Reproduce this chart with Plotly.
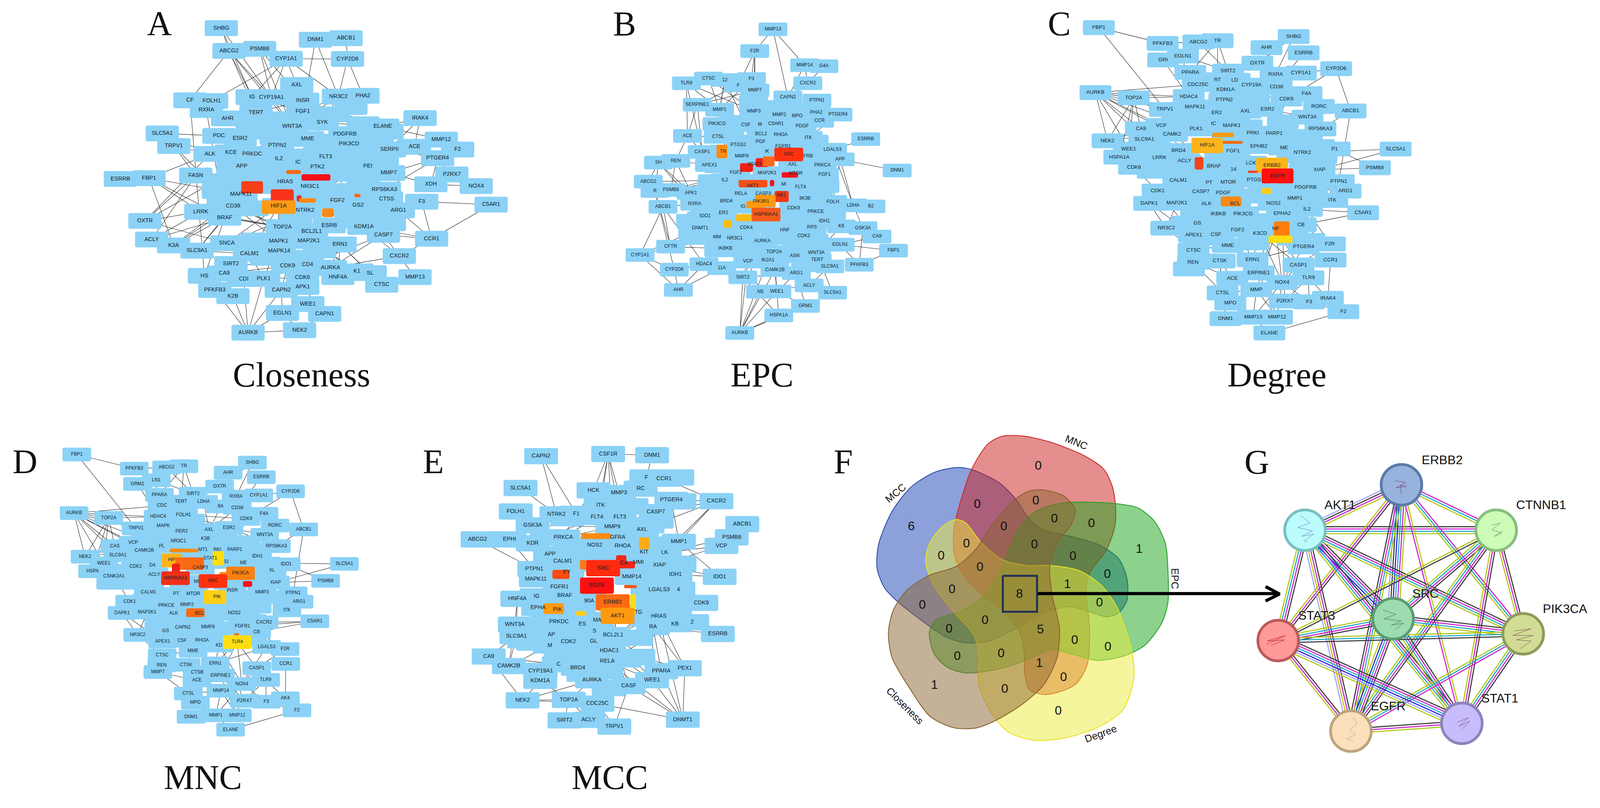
import math
import plotly.graph_objects as go

W, H = 4219, 2068
BLUE = "#8bd2f6"

# panel crops in image pixels: left, top, width, height, extra width to the right
crops = [(200, 0, 1000, 1000, 200), (1550, 0, 900, 1000, 0), (2750, 0, 1000, 1000, 0),
         (0, 1100, 950, 968, 0), (1100, 1100, 950, 968, 0),
         (2200, 1050, 1000, 1000, 0), (3200, 1100, 1019, 900, 0)]

A_nodes = [("SHBG",592,101),("ABCG2",624,193),("PSMB8",751,185),("DNM1",983,148),("ABCB1",1110,142),("CYP1A1",861,225),
("CYP2D6",1116,226),("AXL",905,331),("CF",462,393),("FOLH1",552,396),("IG",720,380),("CYP19A1",800,381),("INSR",930,394),
("NR3C2",1078,378),("PHA2",1180,375),("RXRA",530,432),("TERT",736,443),("FGF1",930,438),("AHR",618,466),("SYK",1011,483),
("WNT3A",886,499),("ELANE",1262,499),("IRAK4",1417,465),("SLC5A1",347,527),("PDC",582,537),("ESR2",670,548),("MME",950,549),
("PDGFRB",1105,530),("MMP12",1505,552),("TRPV1",395,578),("PTPN2",825,576),("PIK3CD",1122,569),("SERPII",1290,592),
("ACE",1394,581),("F2",1573,592),("ALK",545,610),("KCE",632,604),("PRKDC",720,610),("FLT3",1025,621),("IL2",831,630),
("IC",911,644),("PTGER4",1490,627),("APP",677,659),("PTK2",991,662),("PEI",1200,660),("MMP7",1287,687),("FASN",486,697),
("ESRRB",173,711),("FBP1",292,708),("HRAS",857,723),("NR3C1",960,741),("XDH",1462,733),("P2RX7",1549,693),("NOX4",1650,740),
("C5AR1",1712,815),("MAPK11",674,773),("RPS6KA3",1269,754),("FGF2",1074,798),("CTSS",1278,793),("F3",1424,803),("CD38",641,821),
("HIF1A",830,820),("NTRK2",940,838),("ARG1",1327,838),("LRRK",507,844),("GS2",1160,818),("BRAF",606,868),("OXTR",275,881),
("TOP2A",846,906),("BCL2L1",967,924),("KDM1A",1184,905),("CASP7",1265,937),("ESRB",1040,899),("ACLY",303,956),("K3A",394,980),
("SNCA",615,971),("MAPK1",830,963),("MAP2K1",955,962),("ERN1",1085,976),("CCR1",1465,953),("SLC9A1",491,1001),("CALM1",709,1014),
("MAPK14",832,1003),("CXCR2",1331,1023),("CDK9",867,1063),("CD4",950,1057),("AURKA",1045,1070),("SIRT2",632,1055),("HS",522,1103),
("CA9",604,1093),("CDI",685,1116),("PLK1",768,1114),("CDK6",929,1110),("HNF4A",1076,1108),("K1",1155,1085),("SL",1210,1092),
("MMP13",1396,1108),("CTSC",1258,1139),("PFKFB3",565,1160),("CAPN2",841,1160),("APK1",930,1148),("K2B",640,1185),("WEE1",951,1217),
("EGLN1",846,1253),("CAPN1",1021,1257),("AURKB",703,1333),("NEK2",917,1323)]
A_fill = [(1230,530),(1180,620),(1280,520),(1260,630),(1090,620),(620,720),(600,790),(1250,860),(1130,850),(760,520),(820,540),
(1060,450),(1130,420),(720,500),(760,680),(1100,690),(1150,760),(1200,800),(1000,1000),(740,960),(720,700),(1150,660),(1000,560),(870,680),(1180,490),
(1180,720),(1150,880),(1290,890),(1000,700),(800,470),(770,740),(580,760),(720,830),(870,780),(1000,800),(640,700),(900,880),
(780,1030),(900,1030),(900,700),(1060,760),(1200,760),(1240,560),(1130,600),(1180,550),(960,620),(880,620),(760,620),(640,650),(1050,660),(1150,640)]
A_hubs = [(720,745,90,50,"#f5401a"),(892,683,60,16,"#f56a15"),(985,705,120,26,"#f5101a"),(845,778,95,50,"#f8351a"),(915,790,20,25,"#e8301a"),
(950,798,70,18,"#f88a12"),(830,825,140,55,"#fd9a18"),(1035,848,50,35,"#f58a15"),(1157,778,26,14,"#f56a15")]
A_edges = ["SHBG:ABCG2","SHBG:CYP19A1","SHBG:IG","ABCG2:CF","ABCG2:TERT","ABCG2:IG","ABCG2:WNT3A","ABCG2:CYP19A1","PSMB8:CYP19A1","PSMB8:INSR",
"CYP1A1:FOLH1","CYP1A1:IG","CYP1A1:AXL","CYP1A1:NR3C2","CYP1A1:CYP2D6","CYP1A1:CYP19A1","DNM1:FGF1","DNM1:NR3C2","ABCB1:CYP2D6","CYP2D6:NR3C2","CYP2D6:PHA2",
"CF:HS","RXRA:BRAF","SLC5A1:PDC","SLC5A1:ALK","TRPV1:ALK","TRPV1:FASN","TRPV1:CD38","ESRRB:FBP1","FBP1:MAPK11","FBP1:BRAF","FBP1:K3A","FBP1:LRRK","FBP1:ALK",
"FASN:OXTR","OXTR:ALK","OXTR:CD38","OXTR:APP","OXTR:SNCA","ACLY:LRRK","ACLY:BRAF","ACLY:FASN","K3A:BRAF","K3A:SNCA","K3A:CD38","K3A:MAPK11","SLC9A1:SIRT2","SLC9A1:CD38","SLC9A1:CALM1","SLC9A1:BRAF",
"HS:BRAF","AURKB:NEK2","AURKB:PFKFB3","AURKB:PLK1","AURKB:CDI","AURKB:CAPN2","AURKB:EGLN1","AURKB:K2B","NEK2:EGLN1","NEK2:CAPN1","EGLN1:CAPN2","WEE1:CAPN2","WEE1:PLK1","CAPN1:WEE1","CAPN1:APK1",
"CCR1:CASP7","CCR1:ARG1","CCR1:F3","CCR1:C5AR1","CCR1:KDM1A","CCR1:CXCR2","F3:C5AR1","XDH:NOX4","XDH:MMP7","XDH:PTGER4","XDH:P2RX7","P2RX7:PTGER4","IRAK4:ELANE","IRAK4:ACE","IRAK4:SERPII",
"MMP12:ELANE","MMP12:SERPII","PTGER4:MMP7","PTGER4:RPS6KA3","PTGER4:SERPII","CXCR2:CASP7","CXCR2:KDM1A","MMP13:CXCR2","MMP13:CTSC","CXCR2:AURKA","HNF4A:ERN1","CASP7:AURKA","ERN1:AURKA","MAPK14:HNF4A","MAP2K1:HNF4A","ERN1:SL","MAP2K1:K1",
"CYP19A1:WNT3A","IG:FGF1","INSR:TERT","AXL:TERT","CYP19A1:FGF1","AXL:AHR","PSMB8:WNT3A","NR3C2:SYK","INSR:ELANE","FGF1:NR3C2","AXL:SYK","NR3C2:WNT3A","PHA2:MME","PDGFRB:INSR","ELANE:SYK",
"PTK2:RPS6KA3","PTK2:MMP7","NR3C1:PEI","FLT3:RPS6KA3","FLT3:MMP7","PEI:FGF2","HRAS:MMP7","NR3C1:MMP7","PTK2:CTSS","PIK3CD:FGF2","IC:RPS6KA3","IL2:PEI","HRAS:PEI","NR3C1:CTSS","IL2:RPS6KA3",
"BRAF:TOP2A","CD38:MAPK1","CD38:TOP2A","HIF1A:SNCA","HIF1A:MAPK1","MAPK11:MAPK1","BRAF:BCL2L1","LRRK:TOP2A","NTRK2:SNCA","HIF1A:CALM1","CD38:MAP2K1",
"SIRT2:CDK9","CALM1:PLK1","CALM1:CDK6","SIRT2:MAPK14","CDK9:CA9","MAPK1:PLK1","MAPK14:CDK6","PLK1:CD4","CDK9:CAPN2","CDK6:CDI","PDGFRB:FLT3","MME:PDGFRB","SYK:PIK3CD",
"PIK3CD:SERPII","ELANE:PIK3CD","GS2:KDM1A","FGF2:KDM1A","ESRB:GS2","ESRB:NTRK2","TOP2A:ERN1","MAPK14:AURKA","CD4:ERN1","ERN1:CTSC","MAP2K1:CTSC","CD4:CASP7"]

B_nodes = [("MMP13",850,106),("F2R",766,194),("MMP14",996,251),("G4A",1085,255),("TLR9",451,324),("CTSC",553,305),("12",628,311),("F3",751,307),("F",690,333),
("CXCR2",1011,324),("MMP7",767,353),("CAPN2",919,381),("PTPN1",1053,394),("SERPINE1",501,411),("MMP1",604,431),("MMP3",762,437),("MMP2",879,452),("MPO",962,456),
("PHA2",1050,443),("PTGER4",1150,451),("CCR",1065,476),("PIK3CG",592,489),("CSF",725,493),("M",790,491),("C5AR1",864,489),("PDGF",985,498),("ACE",456,537),("CTSL",597,541),
("RHOA",886,533),("BCL2",795,530),("ITK",1013,545),("ESRRB",1278,550),("PGF",793,561),("PTGS2",690,573),("FGFR1",897,580),("LGALS3",1125,593),("CASP1",524,602),("TN",620,600),
("MMP9",706,620),("IK",823,600),("SRC",923,612),("FRB",1012,619),("APP",1160,632),("REN",402,638),("SH",322,645),("APEX1",557,655),("STAT3",765,653),("AXL",941,653),("PRKCA",1078,655),
("DNM1",1423,677),("FGF2",679,686),("MAP2K1",823,687),("MTOR",955,689),("FGF1",1088,694),("ABCG2",275,722),("IL2",628,716),("AKT1",757,740),("Mi",900,733),("FLT4",977,745),("PSMB8",379,756),
("R",306,760),("APK1",472,768),("RELA",702,771),("CASP3",805,771),("NB1",888,777),("3K3B",997,790),("FOLH",1126,804),("BRD4",635,801),("PIK3R1",795,803),("LDHA",1220,818),("B2",1302,822),
("ABCB1",343,824),("RXRA",489,812),("IG",712,823),("CDK9",945,829),("PRKCE",1047,844),("ER2",622,849),("HSP90AA1",818,855),("IDO1",537,861),("IDH1",1087,881),("DNMT1",514,910),("CDK4",727,908),
("RPS",1030,907),("K6",1165,903),("GSK3A",1265,910),("HNF",905,918),("CDK2",992,941),("MM",592,946),("NR3C1",674,951),("CA9",1330,944),("AURKA",801,963),("EGLN1",1160,977),("CFTR",378,985),
("IKBKB",630,993),("FBP1",1406,1001),("CYP1A1",237,1019),("TOP2A",855,1007),("ASN",950,1023),("WNT3A",1050,1010),("TERT",1054,1038),("VCP",734,1045),("IK2A1",827,1040),("HDAC4",532,1056),
("SLC9A1",1112,1065),("PFKFB3",1248,1058),("11A",614,1072),("CYP2D6",395,1078),("CAMK2B",859,1080),("ARG1",958,1092),("SIRT2",711,1109),("ACLY",1017,1142),("AHR",414,1160),("NE",793,1167),
("WEE1",868,1166),("SLC5A1",1125,1171),("GRM1",1000,1225),("HSPA1A",877,1263),("AURKB",697,1334)]
B_fill = [(1000,590),(1080,620),(1000,720),(1060,760),(1090,740),(520,870),(480,880),(500,950),(600,760),(640,760),(570,720),(1040,560),(640,640),(800,900),(1000,880),(700,900),(860,950),
(1100,850),(600,1000),(960,980),(1000,1060),(760,1000),(670,480),(920,430),(1010,620),(470,880),(480,930),(560,810),(860,1030),(660,1000),(740,990),(1040,820),(1120,850),(720,720),(1030,680),(870,740),(630,540),(760,400),(840,420),(960,540),(950,760),(600,660),
(760,760),(700,740),(840,700),(1000,640),(870,560),(720,560),(650,510),(1000,850),(900,880),(760,880),(640,900),(560,900),(720,950),(1040,960)]
B_hubs = [(615,600,50,55,"#fd8c12"),(923,612,133,55,"#ff3210"),(728,665,60,35,"#f01f12"),(800,645,60,36,"#f5201a"),(830,640,55,40,"#f86a18"),(928,695,75,22,"#f5101a"),
(758,730,133,30,"#f55018"),(846,728,20,25,"#f5101a"),(890,782,65,45,"#f23818"),(815,800,95,50,"#ff9a10"),(770,815,85,30,"#ff9a10"),(715,868,70,28,"#ffbb10"),(640,893,42,30,"#ffbb10"),(818,855,133,55,"#f55a1a")]
B_edges = ["MMP13:F2R","MMP13:MMP14","MMP13:CAPN2","F2R:F3","F2R:MMP7","F2R:F","MMP14:CAPN2","MMP14:CXCR2","G4A:CXCR2","F2R:MMP3","TLR9:CASP1","TLR9:ACE","TLR9:MMP1","TLR9:MMP3","CTSC:MMP3","CTSC:MMP1","12:MMP1","12:CSF","12:PIK3CG",
"F3:SERPINE1","F3:MMP1","F3:MMP3","MMP7:MMP3","MMP7:SERPINE1","CXCR2:CAPN2","CAPN2:MMP2","SERPINE1:ACE","SERPINE1:CASP1","ACE:CASP1","ACE:REN","ACE:CTSL","REN:CASP1","REN:APEX1","REN:PSMB8","SH:ABCG2","SH:R","SH:APK1","SH:RXRA","REN:APK1",
"ABCG2:APK1","ABCG2:IL2","PSMB8:FGF2","PSMB8:IL2","ABCB1:RXRA","ABCB1:CFTR","ABCB1:CYP1A1","ABCB1:HDAC4","R:CFTR","R:CYP2D6","CYP1A1:DNMT1","CYP1A1:CFTR","CYP1A1:AHR","CYP1A1:CYP2D6","CFTR:IKBKB","CFTR:MM","CFTR:NR3C1","CFTR:DNMT1","CYP2D6:HDAC4","CYP2D6:AHR","AHR:HDAC4","AHR:11A",
"AURKB:NE","AURKB:WEE1","AURKB:SIRT2","AURKB:HSPA1A","AURKB:GRM1","AURKB:CAMK2B","AURKB:IK2A1","AURKB:VCP","HSPA1A:WEE1","HSPA1A:SIRT2","GRM1:WEE1","GRM1:ARG1","ACLY:SLC5A1","ACLY:SLC9A1","SLC5A1:WNT3A","NE:ACLY","WEE1:ARG1",
"PFKFB3:FBP1","PFKFB3:EGLN1","PFKFB3:GSK3A","FBP1:EGLN1","GSK3A:LDHA","CA9:EGLN1","CA9:K6","DNM1:APP","APP:FGF1","APP:LDHA","LDHA:LGALS3","APP:FOLH","FGF1:FOLH","ESRRB:LGALS3","PTGER4:ITK","PTGER4:CCR","AURKA:ASN","AURKA:CDK2","CDK2:ASN","CDK2:TERT",
"CDK4:DNMT1","ER2:DNMT1","CDK4:RPS","HNF:RPS","AKT1:BRD4","FGF2:RELA","PIK3CG:BCL2","CTSL:BCL2","CSF:BCL2","PTGS2:BCL2","CTSL:RHOA","CSF:RHOA","FLT4:3K3B","3K3B:FOLH","PRKCA:3K3B","FLT4:LDHA","FGF1:3K3B","PRKCE:RPS","PRKCE:HNF","CDK9:IDH1",
"CDK2:EGLN1","WNT3A:K6","CDK2:IDH1","IKBKB:TOP2A","IKBKB:VCP","MM:VCP","NR3C1:VCP","11A:VCP","VCP:SIRT2","IK2A1:CAMK2B","TOP2A:CAMK2B","CAMK2B:WEE1","TOP2A:WEE1","VCP:NE","SIRT2:ARG1","ARG1:TERT","ASN:TERT"]

C_nodes = [("FBP1",236,99),("SHBG",1045,135),("PFKFB3",501,163),("ABCG2",649,157),("TR",729,152),("AHR",932,180),("ESRRB",1086,201),("GRI",503,230),("EGLN1",585,214),("OXTR",894,243),("CYP2D6",1221,265),
("PPARA",616,280),("SIRT2",772,275),("RXRA",970,288),("CYP1A1",1075,283),("RT",729,310),("LD",800,312),("CDC25C",647,329),("CYP19A",870,332),("CD38",974,339),("AURKB",222,362),("KDM1A",762,350),("F4A",1098,366),
("TOP2A",381,383),("HDAC4",609,378),("PTPN2",757,392),("CDK9",1015,388),("RORC",1150,418),("MAPK11",635,420),("TRPV1",510,430),("ABCB1",1281,436),("AXL",845,437),("ESR2",936,429),("ER2",725,444),("WNT3A",1102,461),
("IC",712,487),("MAPK1",788,495),("VCP",495,495),("CA9",411,509),("PLK1",640,509),("RPS6KA3",1156,509),("PRKI",875,526),("PARP1",964,527),("CAMK2",540,530),("NEK2",272,557),("SLC9A1",425,551),("HIF1A",686,574),
("EPHB2",900,580),("WEE1",360,590),("BRD4",567,596),("FGF1",793,599),("ME",1005,586),("NTRK2",1081,605),("SLC5A1",1468,590),("P1",1215,590),("HSPA1A",321,623),("LRRK",488,625),("ACLY",592,638),("LCK",868,647),
("ERBB2",955,656),("PSMB8",1382,666),("CDK6",382,664),("BRAF",714,660),("14",795,673),("XIAP",1152,674),("EGFR",978,699),("CALM1",566,717),("PT",693,727),("MTOR",773,725),("PTGS",880,716),("PTPN1",1232,722),
("PDGFRB",1094,746),("CDK1",480,760),("CASP7",660,763),("PDGF",752,767),("ARG1",1260,760),("MMP1",1050,790),("ITK",1205,798),("DAPK1",445,810),("MAP2K1",560,809),("ALK",683,812),("BCL",802,812),("NOS2",961,810),
("IL2",1100,834),("C5AR1",1333,848),("IKBKB",732,852),("PIK3CG",835,852),("EPHA2",997,851),("GS",645,890),("NR3C2",516,910),("CB",1075,897),("APEX1",630,938),("CSF",722,936),("FGF2",812,918),("K3CD",905,932),
("NF",970,913),("F2R",1195,974),("PTGER4",1086,986),("MME",771,980),("CTSC",629,999),("ERN1",874,1038),("CCR1",1198,1039),("REN",627,1048),("CTSK",738,1043),("CASP1",1065,1059),("ERPINE1",900,1091),("ACE",790,1113),
("TLR9",1106,1111),("NOX4",997,1130),("MMP",890,1159),("CTSL",750,1172),("IRAK4",1187,1194),("MPO",782,1213),("P2RX7",1008,1205),("F3",1109,1208),("F2",1251,1248),("DNM1",762,1276),("MMP13",877,1270),("MMP12",976,1270),("ELANE",944,1334)]
C_fill = [(610,1075),(1100,560),(1130,640),(1090,680),(460,680),(1150,580),(1000,480),(1120,780),(900,880),(700,680),(1040,700),(580,450),(640,480),(760,440),(850,500),(600,760),(920,770),(1040,850),(700,890),(880,970),(1110,960),(1060,540),(880,380),
(560,460),(770,540),(850,780),(640,860),(740,620),(600,890),(560,660),(470,590),(1040,620),(820,700),(1120,720),(1030,900),(800,880),(700,810),(450,620),(1000,760),(800,640),
(620,470),(800,450),(1130,700),(1160,620),(720,700),(620,680),(880,780),(1000,820),(720,900),(870,880),(650,950),(1040,950)]
C_hubs = [(752,533,90,18,"#f59a10"),(790,563,85,12,"#f06a10"),(686,576,130,62,"#ffb31a"),(652,648,36,50,"#f0451a"),(955,656,132,62,"#ffb31a"),(875,682,40,10,"#f0451a"),(978,699,132,60,"#ff1010"),
(932,760,40,24,"#ffcf18"),(785,802,85,40,"#f88a15"),(995,913,65,60,"#fd7f10"),(990,955,100,30,"#ffdd10")]
C_edges = ["FBP1:PFKFB3","FBP1:TRPV1","PFKFB3:ABCG2","ABCG2:SIRT2","TR:PPARA","TR:SIRT2","EGLN1:SIRT2","TR:RT","GRI:HDAC4","EGLN1:HDAC4","SHBG:OXTR","SHBG:RXRA","AHR:RXRA","ESRRB:CD38","CYP2D6:CYP1A1","CYP2D6:ABCB1","CYP1A1:CD38","CYP2D6:CDK9",
"AURKB:CDC25C","AURKB:HDAC4","AURKB:TOP2A","AURKB:NEK2","AURKB:CA9","AURKB:VCP","AURKB:SLC9A1","AURKB:TRPV1","AURKB:CAMK2","AURKB:PLK1","AURKB:WEE1","TOP2A:NEK2","TOP2A:HDAC4","TOP2A:TRPV1","TOP2A:PLK1","TOP2A:CA9","TOP2A:WEE1","TOP2A:HSPA1A","NEK2:CA9","NEK2:VCP","NEK2:PLK1","ABCB1:RORC","ABCB1:RPS6KA3",
"HSPA1A:CALM1","CDK6:CALM1","CDK6:CDK1","LRRK:CALM1","HSPA1A:BRAF","SLC9A1:BRAF","WEE1:ACLY","CDK6:PT","WEE1:CALM1","SLC5A1:XIAP","SLC5A1:NTRK2","PSMB8:XIAP","PSMB8:P1","PTPN1:ABCB1","PDGFRB:ARG1","C5AR1:CB","C5AR1:IL2","C5AR1:ITK",
"DAPK1:NR3C2","MAP2K1:NR3C2","MAP2K1:GS","ALK:GS","DAPK1:APEX1","NR3C2:CTSC","NR3C2:APEX1","CDK1:APEX1","F2:ELANE","F2:IRAK4","F2:F3","IRAK4:CCR1","IRAK4:TLR9","F3:TLR9","TLR9:P2RX7","CASP1:NOX4","CASP1:TLR9","CASP1:CCR1","F3:NOX4","PTGER4:NOX4","F2R:CASP1","PTGER4:ERN1","CB:F2R","IL2:F2R",
"ACE:MMP","CTSL:MMP","CTSL:ACE","CTSL:CTSK","ACE:REN","CTSL:REN","MPO:MMP","MPO:MMP13","MPO:NOX4","MMP:MMP13","MMP:MMP12","DNM1:CTSK","MMP13:ELANE","NOX4:MMP12","NOX4:MMP13","MMP:P2RX7","ERPINE1:MMP12","ACE:CTSK","CTSC:MME","CSF:MME","FGF2:MME","MME:ERN1","K3CD:CASP1","K3CD:ERN1","FGF2:ERN1","NF:ERPINE1","NF:CASP1","NF:NOX4","K3CD:MME","K3CD:NOX4","NOS2:ERPINE1","EPHA2:MMP","EPHA2:P2RX7",
"AXL:PTPN2","AXL:CD38","CYP19A:CDK9","CYP19A:ESR2","PTPN2:ESR2","KDM1A:CDK9","KDM1A:AXL","CYP19A:ER2","MAPK11:CAMK2","TRPV1:PLK1","VCP:MAPK11","ER2:CAMK2","IC:TRPV1","PLK1:MAPK11","PRKI:WNT3A","PARP1:RORC","ESR2:RPS6KA3","ESR2:WNT3A","PARP1:WNT3A","CDK9:PARP1","PARP1:RPS6KA3","ACLY:CDK1","ACLY:CAMK2","BRD4:BRAF","CAMK2:BRAF","LRRK:BRAF","CDK1:CASP7","CALM1:CDK1","ME:XIAP","NTRK2:XIAP","NTRK2:ITK","PTPN1:XIAP","ARG1:XIAP","ITK:PDGFRB","MMP1:ARG1","ITK:MMP1"]

D_nodes = [("FBP1",322,104),("SHBG",1089,138),("PFKFB3",573,163),("ABCG2",714,158),("TR",790,153),("AHR",983,180),("ESRRB",1128,199),("LN1",669,212),("GRM1",587,227),("OXTR",946,238),("CYP2D6",1256,258),("PPARA",683,273),("SIRT2",830,268),
("RXRA",1018,280),("CYP1A1",1117,275),("TERT",777,301),("LDHA",876,302),("CDC",694,318),("CD38",1023,327),("9A",950,321),("AURKB",310,349),("F4A",1140,352),("HDAC4",677,364),("FOLH1",788,356),("TOP2A",461,369),("CDK9",1061,373),("RORC",1188,401),
("MAPK",700,403),("ESR2",987,411),("ABCB1",1313,417),("TRPV1",581,413),("AXL",900,419),("PER2",780,425),("WNT3A",1143,440),("NR3C1",766,466),("K3B",884,457),("VCP",568,473),("RPS6KA3",1194,487),("CAS",488,487),("PL",693,487),("RKI",936,502),("PARP1",1012,502),
("MT1",873,502),("CAMK2B",617,505),("SLC9A1",501,525),("NEK2",358,531),("IDH1",1111,529),("HIF",737,545),("STAT1",905,538),("32",975,553),("ME",1050,557),("WEE1",440,559),("SLC5A1",1491,561),("IDO1",1237,563),("CDK2",579,573),("D4",652,568),("CASP3",862,577),
("HSPA",391,592),("XL",1175,589),("CSNK2A1",484,613),("ACLY",660,606),("PIK3CA",1037,600),("PSMB8",1409,632),("HSP90AA1",753,621),("SRC",917,633),("XIAP",1190,639),("MI",845,636),("INSR",1001,671),("MMP3",1131,680),("CALM1",635,680),("PT",756,687),("MTOR",831,687),
("PTPN1",1267,684),("PIK",935,700),("CDK1",553,719),("ARG1",1293,719),("PRKCE",713,735),("MMP2",803,732),("ITK",1240,755),("DAPK1",520,766),("MAP2K1",629,764),("ALK",745,768),("BCL",858,768),("NOS2",1010,767),("C5AR1",1362,801),("CXCR2",1140,805),("CAPN2",785,827),
("MMP9",895,825),("FGFR1",1046,822),("GS",710,842),("CB",1108,846),("NR3C2",588,858),("APEX1",697,885),("CSF",782,882),("RHOA",869,880),("TLR4",1023,888),("KD",943,902),("LGALS3",1151,908),("F2R",1232,917),("MME",830,924),("CTSC",695,943),("ERN1",927,977),("CCR1",1235,979),
("CTSK",799,983),("REN",693,985),("CASP1",1108,997),("MMP7",676,1013),("CTSB",848,1015),("ERPINE1",950,1027),("ACE",847,1048),("TLR9",1147,1046),("NOX4",1043,1063),("MMP14",952,1091),("CTSL",809,1103),("AK4",1233,1123),("P2RX7",1054,1133),("F3",1150,1137),("MPO",840,1141),
("F2",1284,1173),("DNM1",821,1200),("MMP1",929,1194),("MMP12",1023,1194),("ELANE",994,1254)]
D_fill = [(1110,590),(1130,640),(470,640),(1080,700),(1110,740),(1000,830),(950,770),(820,790),(720,690),(1060,770),(620,440),(640,460),(850,430),(960,450),(1060,470),(820,380),(1150,560),(700,780),(920,860),(1090,800),(900,780),
(570,640),(540,590),(640,640),(800,460),(690,440),(1090,630),(1000,480),(630,710),(760,790),(960,720),(1060,730),(1170,700),(790,640),(680,820),
(620,540),(760,770),(1000,720),(870,740),(770,860),(1090,880),(700,620),(980,640),(1100,500),(800,520)]
D_hubs = [(790,505,125,16,"#f88a12"),(737,547,90,58,"#ffb31a"),(815,560,125,52,"#f96a15"),(755,585,35,50,"#f0201a"),(940,538,50,60,"#ffdd10"),(975,610,60,30,"#f88a12"),(1037,600,125,55,"#fd7f10"),
(1068,645,40,24,"#f5101a"),(753,621,125,57,"#f03018"),(917,633,125,57,"#ff3210"),(925,700,100,57,"#ffcf18"),(840,765,80,36,"#f96a15"),(1020,856,20,10,"#f96a15"),(1023,888,125,57,"#ffdd10")]
D_edges = ["FBP1:PFKFB3","FBP1:TRPV1","PFKFB3:ABCG2","ABCG2:SIRT2","TR:PPARA","TR:SIRT2","LN1:SIRT2","TR:TERT","GRM1:HDAC4","LN1:HDAC4","SHBG:OXTR","SHBG:RXRA","AHR:RXRA","ESRRB:CD38","CYP2D6:CYP1A1","CYP2D6:ABCB1","CYP1A1:CD38","CYP2D6:CDK9",
"AURKB:CDC","AURKB:HDAC4","AURKB:TOP2A","AURKB:NEK2","AURKB:CAS","AURKB:VCP","AURKB:SLC9A1","AURKB:TRPV1","AURKB:CAMK2B","AURKB:PL","AURKB:WEE1","TOP2A:NEK2","TOP2A:HDAC4","TOP2A:TRPV1","TOP2A:PL","TOP2A:CAS","TOP2A:WEE1","TOP2A:HSPA","NEK2:CAS","NEK2:VCP","NEK2:PL","ABCB1:RORC","ABCB1:RPS6KA3",
"HSPA:CALM1","CSNK2A1:CALM1","CSNK2A1:CDK1","HSPA:ACLY","SLC9A1:ACLY","WEE1:ACLY","CSNK2A1:PT","WEE1:CALM1","SLC5A1:XIAP","SLC5A1:ME","PSMB8:XIAP","PSMB8:IDO1","PTPN1:ABCB1","C5AR1:CB","C5AR1:FGFR1","C5AR1:CXCR2","DAPK1:NR3C2","MAP2K1:NR3C2","MAP2K1:GS","ALK:GS","DAPK1:APEX1","NR3C2:CTSC","NR3C2:APEX1","CDK1:APEX1",
"F2:ELANE","F2:AK4","F2:F3","AK4:CCR1","AK4:TLR9","F3:TLR9","TLR9:P2RX7","CASP1:NOX4","CASP1:TLR9","CASP1:CCR1","F3:NOX4","LGALS3:NOX4","F2R:CASP1","LGALS3:ERN1","CB:F2R","TLR4:CASP1","TLR4:ERN1","TLR4:ERPINE1","TLR4:NOX4","KD:ERN1","KD:NOX4",
"ACE:MMP14","CTSL:MMP14","CTSL:ACE","CTSL:CTSK","ACE:MMP7","CTSL:MMP7","MPO:MMP14","MPO:MMP1","MPO:NOX4","MMP14:MMP1","MMP14:MMP12","DNM1:CTSK","MMP1:ELANE","NOX4:MMP12","NOX4:MMP1","MMP14:P2RX7","ERPINE1:MMP12","CTSC:MME","CSF:MME","RHOA:MME","MME:ERN1","KD:MME","MME:CTSK","MMP14:NOX4","ERPINE1:P2RX7",
"AXL:PER2","AXL:CD38","FOLH1:CDK9","FOLH1:ESR2","PER2:ESR2","LDHA:CDK9","LDHA:AXL","9A:K3B","MAPK:CAMK2B","TRPV1:PL","VCP:MAPK","PER2:CAMK2B","PL:MAPK","RKI:WNT3A","PARP1:RORC","ESR2:RPS6KA3","ESR2:WNT3A","PARP1:WNT3A","CDK9:PARP1","PARP1:RPS6KA3","ACLY:CDK1","ACLY:CAMK2B","CSNK2A1:ACLY","D4:ACLY","D4:CALM1","CDK1:PT","CALM1:CDK1","ME:XIAP","XL:ITK","PTPN1:XIAP","ARG1:XIAP","ITK:MMP3","MMP3:ARG1"]

E_nodes = [("CAPN2",535,111),("CSF1R",828,102),("DNM1",1020,107),("SLC5A1",445,244),("F",995,200),("CCR1",1072,205),("HCK",764,254),("MMP3",875,265),("RC",970,247),("CXCR2",1301,299),("PTGER4",1104,294),("ITK",795,316),("FOLH1",424,342),("NTRK2",602,354),("F1",689,352),
("FLT4",779,365),("FLT3",879,365),("CASP7",1036,345),("ABCB1",1414,395),("GSK3A",498,400),("MMP9",846,407),("AXL",976,417),("ABCG2",257,459),("EPHI",397,459),("PRKCA",632,451),("PSMB8",1368,450),("MMP1",1137,469),("KDR",498,475),("NOS2",769,483),("RHOA",892,486),("VCP",1323,486),
("GFRA",870,450),("APP",574,521),("KIT",985,512),("LK",1075,514),("CALM1",630,550),("XIAP",1052,566),("MMI",960,555),("CA",897,558),("SRC",806,579),("PTPN1",505,583),("IDH1",1122,606),("IDO1",1315,615),("FY",647,596),("MMP14",931,615),("MAPK11",512,625),("EGFR",779,652),("LGALS3",1051,669),
("4",1135,669),("FGFR1",615,658),("HNF4A",431,707),("IG",515,697),("BRAF",638,693),("90A",745,716),("ERBB2",848,722),("CDK9",1235,724),("EPHA",522,745),("PIK",607,753),("TG",960,764),("HRAS",1049,780),("AKT1",869,778),("WNT3A",420,815),("PRKDC",613,803),("ES",715,813),("MA",780,796),("RA",1024,825),
("KB",1120,813),("2",1195,805),("ESRRB",1307,854),("SLC9A1",427,863),("AP",580,857),("S",768,843),("BCL2L1",850,859),("CDK2",654,886),("M",573,902),("GL",765,884),("HDAC1",833,924),("CA9",306,948),("RELA",824,968),("CAMK2B",394,988),("BRD4",695,995),("PEX1",1163,997),("C",612,981),("CYP19A1",533,1008),
("PPARA",1060,1009),("KDM1A",531,1050),("AURKA",757,1047),("WEE1",1020,1047),("CASF",918,1071),("NEK2",454,1131),("TOP2A",656,1129),("CDC25C",781,1145),("DNMT1",1154,1212),("SIRT2",637,1215),("ACLY",742,1213),("TRPV1",855,1241)]
E_fill = [(1130,200),(1140,300),(1000,400),(1000,480),(580,600),(560,450),(700,540),(660,500),(1070,620),(1070,720),(1000,720),(1000,790),(1120,790),(460,880),(500,890),(660,790),(560,700),(900,960),(960,950),(820,1010),(720,1020),(620,930),(700,880),(1140,560),(1000,620),(930,320),(650,370),(950,870),(720,560),(830,1080),
(700,660),(640,630),(560,800),(700,760),(750,510),(850,530),(1000,580),(1040,380),(1100,730),(650,580),(560,840),(700,940),(800,900),(620,880),(750,560),(720,700),(1000,670)]
E_hubs = [(775,445,130,24,"#f88a12"),(985,475,45,50,"#ffaa15"),(885,540,45,30,"#f02818"),(905,565,80,30,"#f02818"),(720,565,30,40,"#f97a18"),(806,579,148,68,"#ff2a10"),(622,605,75,38,"#fb4a12"),(779,652,148,68,"#ff1010"),
(925,656,55,14,"#f55a15"),(937,730,25,85,"#ffdd10"),(848,722,148,68,"#fd6a12"),(590,748,90,45,"#ff9a10"),(710,768,45,20,"#ffcf18"),(869,778,148,68,"#ff9a10")]
E_edges = ["CAPN2:F1","CAPN2:NTRK2","CSF1R:HCK","CSF1R:ITK","CSF1R:MMP3","CSF1R:MMP9","CSF1R:FLT3","CSF1R:FLT4","CSF1R:DNM1","DNM1:F","CCR1:CXCR2","CXCR2:PTGER4","CXCR2:CASP7","CXCR2:AXL","CXCR2:MMP1","CXCR2:LK","SLC5A1:NTRK2","FOLH1:GSK3A","ABCG2:PTPN1","ABCG2:KDR","EPHI:PTPN1","EPHI:KDR","MMP3:FLT3","HCK:F1",
"ITK:FLT3","MMP3:RC","FLT3:RC","MMP9:CASP7","F1:GSK3A","NTRK2:GSK3A","MMP9:GSK3A","FLT4:KDR","FLT4:NTRK2","PRKCA:FLT4","PRKCA:MMP9","F1:PRKCA","PTGER4:AXL","PTGER4:MMP1","ABCB1:VCP","PSMB8:LK","VCP:XIAP","VCP:LK","IDO1:IDH1","IDO1:XIAP","IDO1:MMP1","ESRRB:RA","ESRRB:KB","CDK9:XIAP",
"CDK9:IDH1","CDK9:LGALS3","IDH1:LGALS3","LGALS3:HRAS","MMP14:IDH1","XIAP:MMP14","MMP14:LGALS3","MMP14:4","LGALS3:4","CDK9:HRAS","HRAS:4","IDH1:HRAS","HNF4A:WNT3A","HNF4A:SLC9A1","HNF4A:EPHA","WNT3A:SLC9A1","WNT3A:CAMK2B","WNT3A:PRKDC","SLC9A1:CAMK2B","CA9:SLC9A1","CA9:NEK2","CA9:CAMK2B","CA9:C",
"CAMK2B:CYP19A1","CAMK2B:KDM1A","CAMK2B:M","NEK2:TOP2A","NEK2:KDM1A","NEK2:CDC25C","NEK2:AURKA","KDM1A:TOP2A","TOP2A:CDC25C","TOP2A:SIRT2","TOP2A:ACLY","SIRT2:ACLY","ACLY:TRPV1","TRPV1:CASF","TRPV1:CDC25C","CDC25C:DNMT1","DNMT1:WEE1","DNMT1:PPARA","DNMT1:RELA","DNMT1:CASF","DNMT1:HRAS","DNMT1:PEX1","PEX1:HRAS","PEX1:RA","PPARA:RA",
"WEE1:BCL2L1","WEE1:HDAC1","CASF:HDAC1","CASF:BCL2L1","CASF:AURKA","AURKA:BRD4","AURKA:RELA","AURKA:TOP2A","BRD4:HDAC1","BRD4:BCL2L1","CYP19A1:C","KDM1A:C","C:HDAC1","CDK2:HDAC1","CDK2:RELA","GL:RELA","S:RELA","M:BRD4","AP:C","RA:HDAC1","RA:BCL2L1","RA:WEE1","KB:HDAC1","KB:BCL2L1","KB:RELA","HRAS:BCL2L1","HRAS:HDAC1","HRAS:RELA","TG:RELA","TG:HDAC1","AKT1:HDAC1","AKT1:RELA","S:HDAC1","PEX1:HDAC1","PPARA:BCL2L1","WEE1:RELA",
"CDK2:BRD4","CDK2:CYP19A1","KDR:APP","GSK3A:APP","PRKCA:APP","GSK3A:PRKCA","EPHI:APP","NOS2:APP","APP:CALM1","CALM1:KDR","PRKCA:CALM1","RELA:CASF"]

# panel F petals, outline points
petal_MCC_x = [510,570,680,750,810,860,1000,1100,1180,1215,1215,1180,1130,1060,980,880,760,640,540,460,390,270,210,178,185,240,320,420]
petal_MCC_y = [232,240,290,355,440,480,515,545,600,680,770,820,835,815,795,815,880,935,940,915,870,780,720,640,540,410,310,250]
petal_MNC_x = [570,640,700,790,900,1040,1120,1155,1168,1165,1130,1060,1045,1060,1050,1000,880,810,790,790,770,720,620,540,500,495,510]
petal_MNC_y = [240,135,105,105,130,185,240,310,390,470,565,660,730,880,1030,1110,1150,1130,1060,990,900,830,750,670,590,500,420]
petal_EPC_x = [990,1170,1260,1330,1375,1385,1385,1360,1290,1200,1090,1000,900,800,690,550,470,415,395,420,520,610,670,710,760,820,900]
petal_EPC_y = [372,378,395,450,540,640,780,860,950,995,1012,990,968,1010,1045,1063,1040,985,900,850,815,760,680,600,490,420,385]
petal_Degree_x = [505,545,610,700,800,900,1020,1110,1170,1215,1240,1243,1200,1100,960,830,720,650,600,600,580,500,420,380,395,450]
petal_Degree_y = [442,455,535,605,628,628,650,710,790,900,1000,1090,1210,1280,1325,1335,1300,1220,1110,1000,910,820,720,620,540,470]
petal_Closeness_x = [860,950,1000,985,930,895,905,935,925,870,780,670,590,500,400,310,240,225,245,300,390,510,590,650,740,800]
petal_Closeness_y = [322,345,400,460,530,630,750,880,1000,1110,1190,1255,1285,1285,1240,1120,1000,900,810,730,670,630,560,470,370,330]
petals = [(petal_MCC_x,petal_MCC_y,"rgba(25,65,180,0.5)","#2a4aa5"),(petal_MNC_x,petal_MNC_y,"rgba(204,30,30,0.5)","#cc2a2a"),
          (petal_EPC_x,petal_EPC_y,"rgba(25,165,25,0.5)","#28a028"),(petal_Degree_x,petal_Degree_y,"rgba(235,235,60,0.5)","#e8e020"),
          (petal_Closeness_x,petal_Closeness_y,"rgba(140,100,50,0.5)","#8a6030")]
venn_counts = ["0","0","6","0","0","0","0","0","0","1","0","0","0","0","1","0","8","0","0","0","0","5","0","0","0","0","1","0","1","0","0"]
venn_x = [847,594,320,837,914,1068,704,549,831,1266,444,991,605,1134,968,489,769,1101,366,626,477,856,998,1136,693,511,852,952,416,708,930]
venn_y = [228,383,472,368,441,460,472,542,546,565,591,592,637,665,707,727,746,781,790,852,886,890,933,959,987,998,1026,1083,1115,1130,1219]
venn_labels = [("MNC",1005,130,22),("MCC",255,335,-40),("EPC",1415,680,90),("Degree",1105,1308,-20),("Closeness",293,1195,45)]

# panel G network
G_names = ["ERBB2","AKT1","CTNNB1","SRC","PIK3CA","STAT3","EGFR","STAT1"]
G_x = [772,379,1158,738,1268,270,566,1018]
G_y = [248,452,452,850,918,948,1355,1320]
G_fill = ["#97b2dc","#bbfcfc","#ccfcb8","#9cdcb0","#d2dc94","#ff9a9a","#fce0bc","#c8bcfc"]
G_line = ["#5a7aa8","#78c0c0","#88bd7c","#5a9c72","#8c9c5c","#bc5a5a","#bca47c","#8c84bc"]
G_label_x = [938,522,1341,870,1438,427,718,1173]
G_label_y = [141,344,344,741,810,840,1247,1212]
G_edges = [("ERBB2","AKT1","ymkl"),("ERBB2","CTNNB1","mcy"),("AKT1","CTNNB1","kmcy"),("ERBB2","SRC","ymcbkl"),("ERBB2","PIK3CA","mcy"),("ERBB2","STAT3","kmy"),("ERBB2","EGFR","ycmk"),
("ERBB2","STAT1","ym"),("AKT1","SRC","kmcbl"),("AKT1","PIK3CA","kmcy"),("AKT1","STAT3","kmcy"),("AKT1","EGFR","kmyl"),("AKT1","STAT1","kmcy"),("CTNNB1","SRC","kmcy"),("CTNNB1","PIK3CA","kmy"),
("CTNNB1","STAT3","ky"),("CTNNB1","EGFR","kmcy"),("CTNNB1","STAT1","kmy"),("SRC","PIK3CA","kmcy"),("SRC","STAT3","kmcy"),("SRC","EGFR","kmcby"),("SRC","STAT1","kmcy"),("PIK3CA","STAT3","kcy"),
("PIK3CA","EGFR","mcy"),("PIK3CA","STAT1","kmcy"),("STAT3","EGFR","kmy"),("STAT3","STAT1","kmcbly"),("EGFR","STAT1","kmy")]
channel_colors = {"k":"#3c3c3c","m":"#d020d0","c":"#20a8c8","y":"#b0c810","b":"#2020e0","l":"#a0a0ff"}
G_blobs = [("#7a3a6a",[745,790,750,792,768,772],[230,238,262,255,250,292]),
("#6a78b8",[360,400,350,410,365,415,375,390],[385,420,440,455,480,470,500,505]),
("#6a7a70",[1140,1175,1140,1180,1150,1185],[430,420,450,465,480,455]),
("#3a6a60",[695,750,700,770,730,780,745],[810,830,850,860,880,870,900]),
("#7a4a50",[1230,1300,1225,1310,1240,1300,1255],[905,895,925,925,945,950,985]),
("#c01010",[222,300,225,295,240],[965,925,950,945,970]),
("#b09a9a",[575,590,560,585,550,575],[1290,1320,1350,1370,1390,1400]),
("#6a4a90",[1000,1045,1005,1050,1020],[1315,1295,1335,1310,1345])]

# titles and panel letters in image pixels
titles = [("Closeness",790,966),("EPC",2009,966),("Degree",3372,966),("MNC",529,2005),("MCC",1606,2005)]
letters = [("A",414,59),("B",1645,60),("C",2796,60),("D",58,1190),("E",1139,1190),("F",2224,1190),("G",3319,1191)]
arrow_x, arrow_y = [2739,3375], [1523,1523]
arrow_head_x, arrow_head_y = [3342,3379,3342], [1505,1524,1542]
box_x, box_y = [700,842,842,700,700], [670,670,815,815,670]

panels = [(A_nodes,A_fill,A_hubs,A_edges,138,64,14.5),(B_nodes,B_fill,B_hubs,B_edges,133,55,12.2),(C_nodes,C_fill,C_hubs,C_edges,132,60,13.5),
          (D_nodes,D_fill,D_hubs,D_edges,125,57,12),(E_nodes,E_fill,E_hubs,E_edges,148,68,14.4)]


def rects(items, w=None, h=None):
    # rounded boxes as one path, None between them
    xs, ys = [], []
    for it in items:
        x, y = it[0], it[1]
        bw, bh = (it[2], it[3]) if w is None else (w, h)
        rx, ry = min(7, bw / 4), min(6, bh / 4)
        l, r, t, b = x - bw / 2, x + bw / 2, y - bh / 2, y + bh / 2
        xs += [l + rx, r - rx, r - rx * 0.3, r, r, r - rx * 0.3, r - rx, l + rx, l + rx * 0.3, l, l, l + rx * 0.3, l + rx, None]
        ys += [t, t, t + ry * 0.3, t + ry, b - ry, b - ry * 0.3, b, b, b - ry * 0.3, b - ry, t + ry, t + ry * 0.3, t, None]
    return xs, ys


fig = go.Figure()
for i, (nodes, fill, hubs, edges, nw, nh, fs) in enumerate(panels):
    ax = dict(xaxis="x" + str(i + 1), yaxis="y" + str(i + 1))
    pos = {n[0]: (n[1], n[2]) for n in nodes}
    ex, ey = [], []
    for e in edges:
        a, b = e.split(":")
        if a in pos and b in pos:
            ex += [pos[a][0], pos[b][0], None]
            ey += [pos[a][1], pos[b][1], None]
    fig.add_trace(go.Scatter(x=ex, y=ey, mode="lines", line=dict(color="#222222", width=1.1), hoverinfo="skip", **ax))
    bx, by = rects([(n[1], n[2]) for n in nodes] + fill, nw, nh)
    fig.add_trace(go.Scatter(x=bx, y=by, mode="lines", fill="toself", fillcolor=BLUE, line=dict(width=0, color=BLUE), hoverinfo="skip", **ax))
    for hub in hubs:
        hx, hy = rects([hub])
        fig.add_trace(go.Scatter(x=hx, y=hy, mode="lines", fill="toself", fillcolor=hub[4], line=dict(width=0, color=hub[4]), hoverinfo="skip", **ax))
    fig.add_trace(go.Scatter(x=[n[1] for n in nodes], y=[n[2] for n in nodes], text=[n[0] for n in nodes], mode="text",
                             textfont=dict(family="Liberation Sans", size=fs, color="#10202c"), textposition="middle center", hoverinfo="skip", **ax))

# F venn
for px_, py_, fc, lc in petals:
    fig.add_trace(go.Scatter(x=px_ + px_[:1], y=py_ + py_[:1], mode="lines", fill="toself", fillcolor=fc,
                             line=dict(color=lc, width=2.2, shape="spline", smoothing=0.8), hoverinfo="skip", xaxis="x6", yaxis="y6"))
fig.add_trace(go.Scatter(x=box_x, y=box_y, mode="lines", line=dict(color="#1f3056", width=5), hoverinfo="skip", xaxis="x6", yaxis="y6"))
fig.add_trace(go.Scatter(x=venn_x, y=venn_y, text=venn_counts, mode="text", textfont=dict(family="Liberation Sans", size=32, color="#111111"),
                         hoverinfo="skip", xaxis="x6", yaxis="y6"))

# G network
gsx, gsy = 1568 / 1019, 1568 / 900
gpos = dict(zip(G_names, zip(G_x, G_y)))
for a, b, chans in G_edges:
    (x0, y0), (x1, y1) = gpos[a], gpos[b]
    dx, dy = (x1 - x0) / gsx, (y1 - y0) / gsy
    d = math.hypot(dx, dy)
    nx, ny = -dy / d, dx / d
    for k, c in enumerate(chans):
        off = (k - (len(chans) - 1) / 2) * 6
        ox, oy = nx * off * gsx, ny * off * gsy
        fig.add_trace(go.Scatter(x=[x0 + ox, x1 + ox], y=[y0 + oy, y1 + oy], mode="lines", line=dict(color=channel_colors[c], width=2.8),
                                 hoverinfo="skip", xaxis="x7", yaxis="y7"))
fig.add_trace(go.Scatter(x=G_x, y=G_y, mode="markers", marker=dict(size=104, color=G_fill, line=dict(color=G_line, width=7)),
                         hoverinfo="skip", xaxis="x7", yaxis="y7"))
for col, bx_, by_ in G_blobs:
    fig.add_trace(go.Scatter(x=bx_, y=by_, mode="lines", line=dict(color=col, width=1), hoverinfo="skip", xaxis="x7", yaxis="y7"))
fig.add_trace(go.Scatter(x=G_label_x, y=G_label_y, text=G_names, mode="text", textfont=dict(family="Liberation Sans", size=32, color="#111111", shadow="0px 0px 3px #ffffff"),
                         hoverinfo="skip", xaxis="x7", yaxis="y7"))

# full page layer: titles, letters, arrow
fig.add_trace(go.Scatter(x=arrow_x, y=arrow_y, mode="lines", line=dict(color="black", width=8), hoverinfo="skip", xaxis="x8", yaxis="y8"))
fig.add_trace(go.Scatter(x=arrow_head_x, y=arrow_head_y, mode="lines", line=dict(color="black", width=8), hoverinfo="skip", xaxis="x8", yaxis="y8"))
fig.add_trace(go.Scatter(x=[t[1] for t in titles + letters], y=[t[2] for t in titles + letters], text=[t[0] for t in titles + letters], mode="text",
                         textfont=dict(family="Liberation Serif", size=88, color="#111111"), hoverinfo="skip", xaxis="x8", yaxis="y8"))

# no fixed size: a figure wider than the page gets cut, this one fills the window
hidden = dict(visible=False, showgrid=False, zeroline=False, fixedrange=True)
layout = dict(margin=dict(l=0, r=0, t=0, b=0), paper_bgcolor="white", plot_bgcolor="rgba(0,0,0,0)", showlegend=False)
for i, (x0, y0, cw, ch, extra) in enumerate(crops):
    suf = "" if i == 0 else str(i + 1)
    layout["xaxis" + suf] = dict(domain=[x0 / W, (x0 + cw + extra) / W], range=[0, 1568 * (cw + extra) / cw], anchor="y" + suf, **hidden)
    layout["yaxis" + suf] = dict(domain=[1 - (y0 + ch) / H, 1 - y0 / H], range=[1568, 0], anchor="x" + suf, **hidden)
layout["xaxis8"] = dict(domain=[0, 1], range=[0, W], anchor="y8", **hidden)
layout["yaxis8"] = dict(domain=[0, 1], range=[H, 0], anchor="x8", **hidden)
fig.update_layout(**layout)

annots = []
for text, x, y, ang in venn_labels:
    annots.append(dict(text=text, x=x, y=y, xref="x6", yref="y6", showarrow=False, textangle=ang,
                       font=dict(family="Liberation Sans", size=26, color="#111111")))
fig.update_layout(annotations=annots)

fig.write_html("out.html")
